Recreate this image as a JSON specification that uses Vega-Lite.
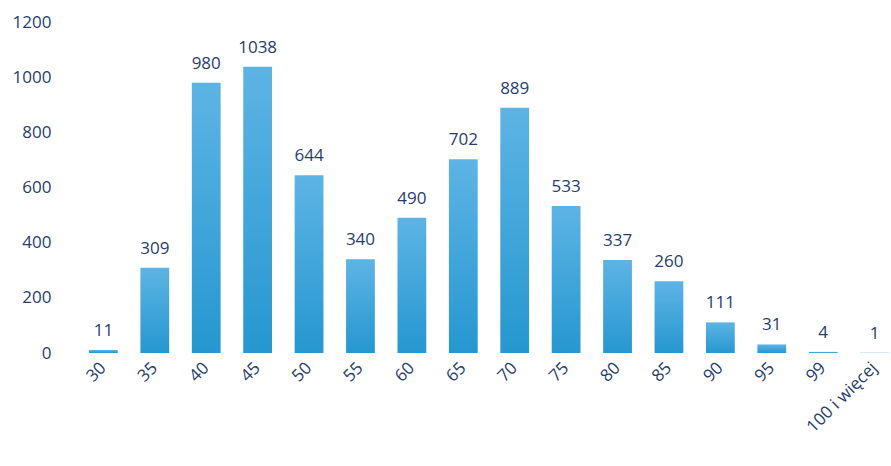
{
  "$schema": "https://vega.github.io/schema/vega-lite/v6.json",
  "autosize": {"type": "none"},
  "padding": {"left": 89, "top": 22, "right": 0, "bottom": 113},
  "width": 800,
  "height": 331,
  "background": "white",
  "data": {"values": [
    {"k": "30", "v": 11},
    {"k": "35", "v": 309},
    {"k": "40", "v": 980},
    {"k": "45", "v": 1038},
    {"k": "50", "v": 644},
    {"k": "55", "v": 340},
    {"k": "60", "v": 490},
    {"k": "65", "v": 702},
    {"k": "70", "v": 889},
    {"k": "75", "v": 533},
    {"k": "80", "v": 337},
    {"k": "85", "v": 260},
    {"k": "90", "v": 111},
    {"k": "95", "v": 31},
    {"k": "99", "v": 4},
    {"k": "100 i więcej", "v": 1}
  ]},
  "config": {"view": {"stroke": null}, "font": "Open Sans"},
  "encoding": {
    "x": {"field": "k", "type": "ordinal", "sort": null,
      "scale": {"paddingInner": 0.44, "paddingOuter": 0},
      "axis": {"title": null, "labelAngle": -45, "labelAlign": "right", "labelBaseline": "middle",
        "domain": false, "ticks": false, "labelPadding": 12, "labelFontSize": 17,
        "labelColor": "#263d6e", "labelFont": "Open Sans"}},
    "y": {"field": "v", "type": "quantitative",
      "scale": {"domain": [0, 1200]},
      "axis": {"title": null, "values": [0, 200, 400, 600, 800, 1000, 1200], "format": "d", "grid": false,
        "domain": false, "ticks": false, "labelPadding": 38, "labelFontSize": 17,
        "labelColor": "#263d6e", "labelFont": "Open Sans"}}
  },
  "layer": [
    {"mark": {"type": "bar", "color": {"gradient": "linear", "x1": 0, "y1": 0, "x2": 0, "y2": 1,
      "stops": [{"offset": 0, "color": "#5db4e4"}, {"offset": 1, "color": "#2697d0"}]}}},
    {"mark": {"type": "text", "baseline": "bottom", "dy": -10, "fontSize": 17, "color": "#263d6e", "font": "Open Sans"},
     "encoding": {"text": {"field": "v", "type": "quantitative", "format": "d"}}}
  ]
}
